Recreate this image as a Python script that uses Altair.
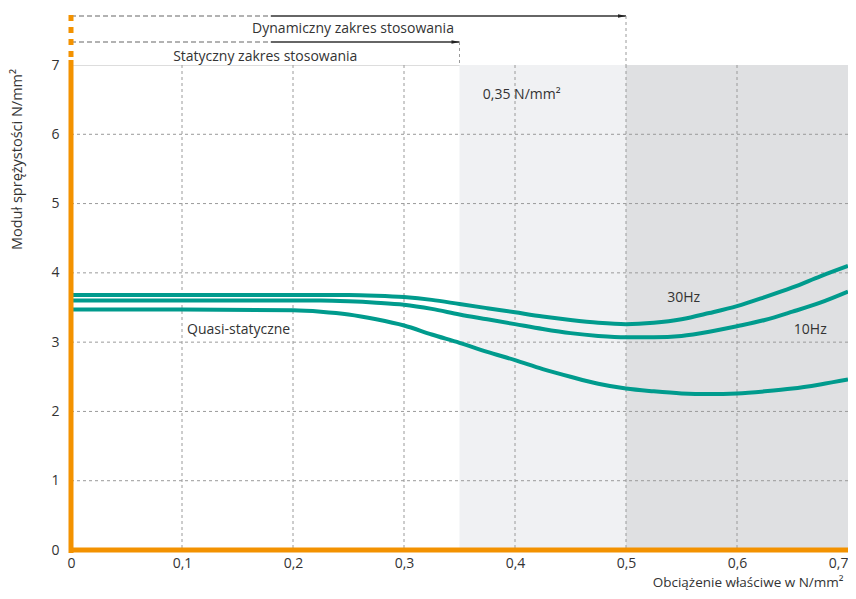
import altair as alt
import pandas as pd

# ---- data ----
x_vals = [0, 0.1, 0.2, 0.225, 0.25, 0.275, 0.3, 0.325, 0.35, 0.375, 0.4, 0.425,
          0.45, 0.475, 0.5, 0.525, 0.55, 0.575, 0.6, 0.625, 0.65, 0.675, 0.7]
hz30 = [3.68, 3.68, 3.68, 3.68, 3.68, 3.67, 3.65, 3.61, 3.55, 3.49, 3.43, 3.37,
        3.32, 3.28, 3.26, 3.28, 3.33, 3.42, 3.52, 3.65, 3.79, 3.95, 4.10]
hz10 = [3.60, 3.60, 3.60, 3.60, 3.59, 3.57, 3.54, 3.48, 3.40, 3.33, 3.26, 3.19,
        3.13, 3.09, 3.07, 3.07, 3.09, 3.15, 3.23, 3.32, 3.44, 3.57, 3.73]
quasi = [3.47, 3.47, 3.46, 3.44, 3.40, 3.33, 3.24, 3.11, 2.99, 2.86, 2.74, 2.61,
         2.50, 2.40, 2.33, 2.29, 2.26, 2.25, 2.26, 2.29, 2.33, 2.39, 2.46]

zone_start = [0.35, 0.5]
zone_end = [0.5, 0.7]
zone_color = ["#f0f1f3", "#dfe0e2"]

grid_x = [0.1, 0.2, 0.3, 0.4, 0.5, 0.6]
grid_y = [1, 2, 3, 4, 5, 6]
x_ticks = [0, 0.1, 0.2, 0.3, 0.4, 0.5, 0.6, 0.7]
y_ticks = [0, 1, 2, 3, 4, 5, 6, 7]

label_text = ["0,35 N/mm²", "30Hz", "10Hz", "Quasi-statyczne"]
label_x = [0.371, 0.552, 0.666, 0.151]
label_y = [6.56, 3.64, 3.18, 3.17]

dyn_end = 0.5
stat_end = 0.35
dash_end = 0.18

W, H = 777, 485
TEAL = "#009b8d"
ORANGE = "#f39200"
FONT = "Open Sans"

rows = []
for name, ys in [("30Hz", hz30), ("10Hz", hz10), ("quasi", quasi)]:
    for xv, yv in zip(x_vals, ys):
        rows.append({"x": xv, "y": yv, "s": name})
curves_df = pd.DataFrame(rows)
zones_df = pd.DataFrame({"x": zone_start, "x2": zone_end, "c": zone_color})
gx_df = pd.DataFrame({"x": grid_x})
gy_df = pd.DataFrame({"y": grid_y})
lab_df = pd.DataFrame({"t": label_text, "x": label_x, "y": label_y})

xs = alt.Scale(domain=[0, 0.7], nice=False, zero=False)
ys_ = alt.Scale(domain=[0, 7], nice=False)

x_axis = alt.Axis(
    values=x_ticks, grid=False, domain=False, ticks=False,
    labelExpr="datum.value == 0 ? '0' : replace(format(datum.value, '.1f'), '.', ',')",
    labelAlign={"condition": {"test": "datum.value >= 0.69", "value": "right"}, "value": "center"},
    labelFontSize=14, labelColor="#333", labelPadding=6, labelFont=FONT,
    title="Obciążenie właściwe w N/mm²", titleFont=FONT, titleFontSize=13.5,
    titleFontWeight="normal", titleColor="#333", titleAnchor="end",
    titleAlign="right", titleX=772, titleY=36, titleBaseline="alphabetic",
)
y_axis = alt.Axis(
    values=y_ticks, grid=False, domain=False, ticks=False, format="d",
    labelFontSize=14, labelColor="#333", labelPadding=12, labelFont=FONT,
    title="Moduł sprężystości N/mm²", titleFont=FONT, titleFontSize=14.5,
    titleFontWeight="normal", titleColor="#333", titleAngle=270,
    titleX=-54, titleY=94, titleAlign="center", titleBaseline="middle",
)

zones = alt.Chart(zones_df).mark_rect().encode(
    x=alt.X("x:Q", scale=xs, axis=x_axis),
    x2="x2:Q",
    y=alt.value(0),
    y2=alt.value(H),
    color=alt.Color("c:N", scale=None),
)

gridx = alt.Chart(gx_df).mark_rule(color="#9a9a9a", strokeDash=[3, 3], strokeWidth=1).encode(
    x=alt.X("x:Q", scale=xs), y=alt.value(0), y2=alt.value(H)
)
gridy = alt.Chart(gy_df).mark_rule(color="#9a9a9a", strokeDash=[3, 3], strokeWidth=1).encode(
    y=alt.Y("y:Q", scale=ys_, axis=y_axis), x=alt.value(0), x2=alt.value(W)
)

curves = alt.Chart(curves_df).mark_line(
    color=TEAL, strokeWidth=4, interpolate="monotone", strokeCap="butt"
).encode(
    x=alt.X("x:Q", scale=xs),
    y=alt.Y("y:Q", scale=ys_),
    detail="s:N",
)

labels = alt.Chart(lab_df.iloc[[0]]).mark_text(
    align="left", baseline="middle", font=FONT, fontSize=14, color="#333"
).encode(x=alt.X("x:Q", scale=xs), y=alt.Y("y:Q", scale=ys_), text="t:N") + alt.Chart(
    lab_df.iloc[1:]
).mark_text(
    align="center", baseline="middle", font=FONT, fontSize=14, color="#333"
).encode(x=alt.X("x:Q", scale=xs), y=alt.Y("y:Q", scale=ys_), text="t:N")

base = alt.Chart(pd.DataFrame({"a": [0]}))


def arrow(end, ypix):
    dashed = base.mark_rule(color="#666", strokeDash=[5, 3], strokeWidth=1.2).encode(
        x=alt.datum(0, scale=xs), x2=alt.datum(dash_end), y=alt.value(ypix)
    )
    solid = base.mark_rule(color="#333", strokeWidth=1.3).encode(
        x=alt.datum(dash_end, scale=xs), x2=alt.datum(end), y=alt.value(ypix)
    )
    head = base.mark_point(
        shape="M-1,-0.45L1,0L-1,0.45Z", filled=True, color="#222", size=64, opacity=1, xOffset=-4
    ).encode(x=alt.datum(end, scale=xs), y=alt.value(ypix))
    drop = base.mark_rule(color="#9a9a9a", strokeDash=[3, 3], strokeWidth=1).encode(
        x=alt.datum(end, scale=xs), y=alt.value(ypix), y2=alt.value(0)
    )
    return dashed + solid + head + drop


dyn = arrow(dyn_end, -49)
stat = arrow(stat_end, -23)

ann_text = base.mark_text(
    align="right", baseline="middle", font=FONT, fontSize=14, color="#333"
).encode(x=alt.datum(0.345, scale=xs), y=alt.value(-36), text=alt.value("Dynamiczny zakres stosowania")) + base.mark_text(
    align="center", baseline="middle", font=FONT, fontSize=14, color="#333"
).encode(x=alt.datum(0.175, scale=xs), y=alt.value(-8), text=alt.value("Statyczny zakres stosowania"))

left_solid = base.mark_rule(color=ORANGE, strokeWidth=5).encode(
    x=alt.datum(0, scale=xs), y=alt.value(-5), y2=alt.value(H + 3)
)
left_dash = base.mark_rule(color=ORANGE, strokeWidth=5, strokeDash=[6, 6]).encode(
    x=alt.datum(0, scale=xs), y=alt.value(-50), y2=alt.value(-5)
)
bottom = base.mark_rule(color=ORANGE, strokeWidth=5).encode(
    y=alt.datum(0, scale=ys_), x=alt.value(-2), x2=alt.value(W)
)

chart = alt.layer(
    zones, gridx, gridy, curves, labels, dyn, stat, ann_text, left_dash, left_solid, bottom
).properties(
    width=W, height=H,
    autosize=alt.AutoSizeParams(type="none"),
    padding={"left": 63, "top": 57, "right": 0, "bottom": 41},
).configure_view(stroke="#f4b862", strokeWidth=1.2).configure(background="white")

chart.save("out.html", embed_options={"renderer": "svg", "actions": False})
